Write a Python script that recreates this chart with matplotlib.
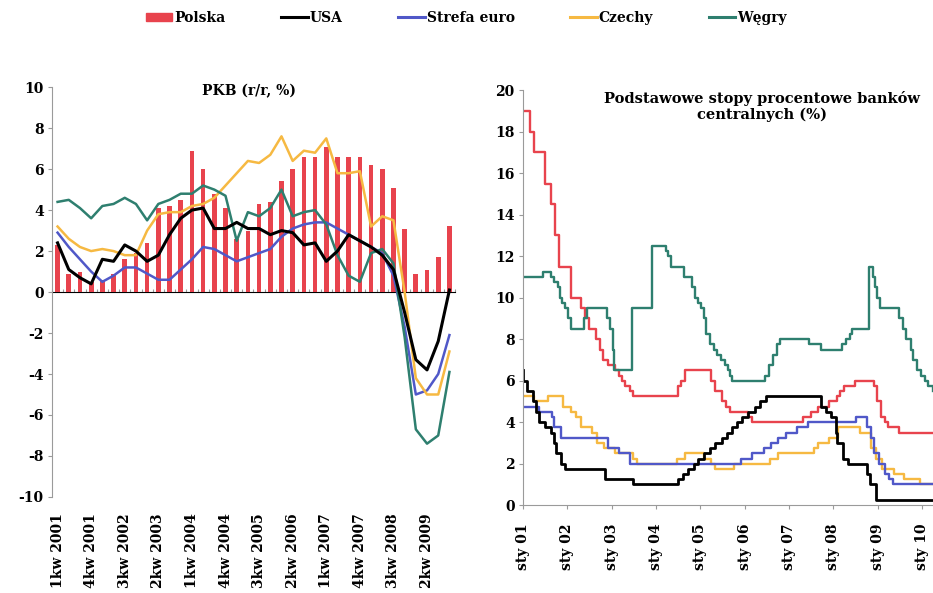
import matplotlib.pyplot as plt
import matplotlib.patches as mpatches
import matplotlib.lines as mlines
import numpy as np
import pandas as pd

plt.rcParams['font.family'] = ['DejaVu Serif']
plt.rcParams['font.weight'] = 'bold'
plt.rcParams['axes.unicode_minus'] = False

# --- PKB r/r (%), kwartalnie 1kw 2001 - 4kw 2009 ---
kwartaly = [f"{q}kw {rok}" for rok in range(2001, 2010) for q in range(1, 5)]

pkb_polska = [2.3, 0.9, 1.0, 0.5, 0.6, 0.9, 1.6, 1.9, 2.4, 4.1, 4.2, 4.5,
              6.9, 6.0, 4.8, 4.1, 2.6, 3.0, 4.3, 4.4, 5.4, 6.0, 6.6, 6.6,
              7.1, 6.6, 6.6, 6.6, 6.2, 6.0, 5.1, 3.1, 0.9, 1.1, 1.7, 3.2]
pkb_usa = [2.4, 1.1, 0.7, 0.4, 1.6, 1.5, 2.3, 2.0, 1.5, 1.8, 2.8, 3.6,
           4.0, 4.1, 3.1, 3.1, 3.4, 3.1, 3.1, 2.8, 3.0, 2.9, 2.3, 2.4,
           1.5, 2.0, 2.8, 2.5, 2.2, 1.8, 1.1, -1.0, -3.3, -3.8, -2.4, 0.1]
pkb_euro = [2.9, 2.2, 1.6, 1.0, 0.5, 0.8, 1.2, 1.2, 0.9, 0.6, 0.6, 1.1,
            1.6, 2.2, 2.1, 1.8, 1.5, 1.7, 1.9, 2.1, 2.7, 3.1, 3.3, 3.4,
            3.4, 3.1, 2.8, 2.5, 2.2, 1.9, 0.8, -1.7, -5.0, -4.8, -4.0, -2.1]
pkb_czechy = [3.2, 2.6, 2.2, 2.0, 2.1, 2.0, 1.8, 1.8, 3.0, 3.8, 3.9, 3.9,
              4.2, 4.3, 4.6, 5.2, 5.8, 6.4, 6.3, 6.7, 7.6, 6.4, 6.9, 6.8,
              7.5, 5.8, 5.8, 5.9, 3.2, 3.7, 3.5, 0.0, -4.2, -5.0, -5.0, -2.9]
pkb_wegry = [4.4, 4.5, 4.1, 3.6, 4.2, 4.3, 4.6, 4.3, 3.5, 4.3, 4.5, 4.8,
             4.8, 5.2, 5.0, 4.7, 2.5, 3.9, 3.7, 4.1, 5.0, 3.7, 3.9, 4.0,
             3.3, 1.8, 0.8, 0.5, 1.9, 2.1, 1.4, -2.2, -6.7, -7.4, -7.0, -3.9]

# --- Podstawowe stopy procentowe (%), daty zmian ---
stopy_polska_daty = ["2001-01-01", "2001-02-28", "2001-03-29", "2001-06-28", "2001-08-23",
                     "2001-09-20", "2001-10-25", "2002-01-31", "2002-04-26", "2002-05-30",
                     "2002-06-27", "2002-08-29", "2002-09-26", "2002-10-24", "2002-11-28",
                     "2003-01-30", "2003-02-27", "2003-03-27", "2003-04-24", "2003-05-29",
                     "2003-06-26", "2004-06-30", "2004-07-29", "2004-08-26", "2005-03-31",
                     "2005-04-28", "2005-06-30", "2005-07-28", "2005-08-31", "2006-01-31",
                     "2006-02-28", "2007-04-26", "2007-06-28", "2007-08-30", "2007-11-29",
                     "2008-01-31", "2008-02-28", "2008-03-27", "2008-06-26", "2008-11-27",
                     "2008-12-24", "2009-01-28", "2009-02-26", "2009-03-26", "2009-06-25"]
stopy_polska = [19.0, 18.0, 17.0, 15.5, 14.5, 13.0, 11.5, 10.0, 9.5, 9.0,
                8.5, 8.0, 7.5, 7.0, 6.75, 6.5, 6.25, 6.0, 5.75, 5.5,
                5.25, 5.75, 6.0, 6.5, 6.0, 5.5, 5.0, 4.75, 4.5, 4.25,
                4.0, 4.25, 4.5, 4.75, 5.0, 5.25, 5.5, 5.75, 6.0, 5.75,
                5.0, 4.25, 4.0, 3.75, 3.5]

stopy_usa_daty = ["2001-01-01", "2001-01-03", "2001-01-31", "2001-03-20", "2001-04-18",
                  "2001-05-15", "2001-06-27", "2001-08-21", "2001-09-17", "2001-10-02",
                  "2001-11-06", "2001-12-11", "2002-11-06", "2003-06-25", "2004-06-30",
                  "2004-08-10", "2004-09-21", "2004-11-10", "2004-12-14", "2005-02-02",
                  "2005-03-22", "2005-05-03", "2005-06-30", "2005-08-09", "2005-09-20",
                  "2005-11-01", "2005-12-13", "2006-01-31", "2006-03-28", "2006-05-10",
                  "2006-06-29", "2007-09-18", "2007-10-31", "2007-12-11", "2008-01-22",
                  "2008-01-30", "2008-03-18", "2008-04-30", "2008-10-08", "2008-10-29",
                  "2008-12-16"]
stopy_usa = [6.5, 6.0, 5.5, 5.0, 4.5, 4.0, 3.75, 3.5, 3.0, 2.5,
             2.0, 1.75, 1.25, 1.0, 1.25, 1.5, 1.75, 2.0, 2.25, 2.5,
             2.75, 3.0, 3.25, 3.5, 3.75, 4.0, 4.25, 4.5, 4.75, 5.0,
             5.25, 4.75, 4.5, 4.25, 3.5, 3.0, 2.25, 2.0, 1.5, 1.0,
             0.25]

stopy_euro_daty = ["2001-01-01", "2001-05-10", "2001-08-30", "2001-09-17", "2001-11-08",
                   "2002-12-05", "2003-03-06", "2003-06-05", "2005-12-01", "2006-03-02",
                   "2006-06-08", "2006-08-03", "2006-10-05", "2006-12-07", "2007-03-08",
                   "2007-06-06", "2008-07-03", "2008-10-08", "2008-11-06", "2008-12-04",
                   "2009-01-15", "2009-03-05", "2009-04-02", "2009-05-07"]
stopy_euro = [4.75, 4.5, 4.25, 3.75, 3.25, 2.75, 2.5, 2.0, 2.25, 2.5,
              2.75, 3.0, 3.25, 3.5, 3.75, 4.0, 4.25, 3.75, 3.25, 2.5,
              2.0, 1.5, 1.25, 1.0]

stopy_czechy_daty = ["2001-01-01", "2001-04-01", "2001-07-27", "2001-11-29", "2002-01-31",
                     "2002-03-15", "2002-04-26", "2002-07-26", "2002-09-01", "2002-11-01",
                     "2003-01-31", "2003-06-27", "2003-08-01", "2004-06-25", "2004-08-27",
                     "2005-01-28", "2005-03-31", "2005-04-29", "2005-10-01", "2006-07-28",
                     "2006-09-29", "2007-07-27", "2007-08-31", "2007-11-30", "2008-02-08",
                     "2008-08-08", "2008-11-07", "2008-12-18", "2009-02-06", "2009-05-11",
                     "2009-08-07", "2009-12-17"]
stopy_czechy = [5.25, 5.0, 5.25, 4.75, 4.5, 4.25, 3.75, 3.5, 3.0, 2.75,
                2.5, 2.25, 2.0, 2.25, 2.5, 2.25, 2.0, 1.75, 2.0, 2.25,
                2.5, 2.75, 3.0, 3.25, 3.75, 3.5, 2.75, 2.25, 1.75, 1.5,
                1.25, 1.0]

stopy_wegry_daty = ["2001-01-01", "2001-06-15", "2001-08-20", "2001-09-15", "2001-10-15",
                    "2001-11-01", "2001-11-20", "2001-12-15", "2002-01-10", "2002-02-01",
                    "2002-05-15", "2002-06-10", "2002-11-20", "2002-12-15", "2003-01-10",
                    "2003-01-20", "2003-06-15", "2003-11-28", "2004-03-20", "2004-04-05",
                    "2004-05-01", "2004-08-20", "2004-10-20", "2004-11-20", "2004-12-15",
                    "2005-01-05", "2005-02-01", "2005-02-20", "2005-03-20", "2005-04-20",
                    "2005-05-20", "2005-06-20", "2005-07-20", "2005-08-20", "2005-09-01",
                    "2005-09-20", "2006-06-15", "2006-07-20", "2006-08-25", "2006-09-20",
                    "2006-10-15", "2007-06-15", "2007-09-25", "2008-03-15", "2008-04-15",
                    "2008-05-15", "2008-06-01", "2008-10-22", "2008-11-24", "2008-12-08",
                    "2008-12-22", "2009-01-19", "2009-06-22", "2009-07-27", "2009-08-24",
                    "2009-09-28", "2009-10-19", "2009-11-23", "2009-12-21", "2010-01-25",
                    "2010-02-22", "2010-03-29"]
stopy_wegry = [11.0, 11.25, 11.0, 10.75, 10.5, 10.0, 9.75, 9.5, 9.0, 8.5,
               9.0, 9.5, 9.0, 8.5, 7.5, 6.5, 9.5, 12.5, 12.25, 12.0,
               11.5, 11.0, 10.5, 10.0, 9.75, 9.5, 9.0, 8.25, 7.75, 7.5,
               7.25, 7.0, 6.75, 6.5, 6.25, 6.0, 6.25, 6.75, 7.25, 7.75,
               8.0, 7.75, 7.5, 7.75, 8.0, 8.25, 8.5, 11.5, 11.0, 10.5,
               10.0, 9.5, 9.0, 8.5, 8.0, 7.5, 7.0, 6.5, 6.25, 6.0,
               5.75, 5.5]

koniec = "2010-04-01"
lata = list(range(2001, 2011))

kolory = {'Polska': '#e8434d', 'USA': '#000000', 'Strefa euro': '#5058c8',
          'Czechy': '#f6b942', 'Węgry': '#2e7f6f'}
szary = '#9a9a9a'

fig = plt.figure(figsize=(9.33, 5.93), dpi=100)

# ---------- wykres lewy: PKB ----------
ax1 = fig.add_axes([0.0557, 0.162, 0.432, 0.691])
x = np.arange(len(kwartaly))
ax1.bar(x, pkb_polska, width=0.42, color=kolory['Polska'], zorder=2)
ax1.plot(x, pkb_euro, color=kolory['Strefa euro'], lw=1.8, zorder=3)
ax1.plot(x, pkb_czechy, color=kolory['Czechy'], lw=1.8, zorder=3)
ax1.plot(x, pkb_wegry, color=kolory['Węgry'], lw=1.8, zorder=3)
ax1.plot(x, pkb_usa, color=kolory['USA'], lw=2.2, zorder=4)

ax1.set_xlim(-0.5, len(kwartaly) - 0.5)
ax1.set_ylim(-10, 10)
ax1.set_yticks(range(-10, 11, 2))
ax1.set_xticks(x[::3])
ax1.set_xticklabels(kwartaly[::3], rotation=90, fontsize=10)
ax1.tick_params(axis='x', length=0, pad=12)
ax1.tick_params(axis='y', length=3, color=szary, labelsize=10, pad=3)
for s in ['top', 'right', 'bottom']:
    ax1.spines[s].set_visible(False)
ax1.spines['left'].set_color(szary)

# os pozioma na poziomie 0 (srodek zakresu)
os0 = ax1.secondary_xaxis(0.5)
os0.set_xticks(np.arange(-0.5, len(kwartaly), 1))
os0.set_xticklabels([])
os0.tick_params(length=2.5, color=szary)
os0.spines['bottom'].set_color(szary)

ax1.text(0.49, 0.99, 'PKB (r/r, %)', transform=ax1.transAxes,
         ha='center', va='center', fontsize=10)

# ---------- wykres prawy: stopy procentowe ----------
ax2 = fig.add_axes([0.5606, 0.148, 0.4394, 0.70])
serie = [('Polska', stopy_polska_daty, stopy_polska, 1.7),
         ('Węgry', stopy_wegry_daty, stopy_wegry, 1.7),
         ('Czechy', stopy_czechy_daty, stopy_czechy, 1.7),
         ('Strefa euro', stopy_euro_daty, stopy_euro, 1.7),
         ('USA', stopy_usa_daty, stopy_usa, 2.0)]
for nazwa, daty, wartosci, lw in serie:
    d = pd.to_datetime(daty + [koniec])
    ax2.step(d, wartosci + [wartosci[-1]], where='post',
             color=kolory[nazwa], lw=lw)

ax2.set_xlim(pd.Timestamp('2001-01-01'), pd.Timestamp(koniec))
ax2.set_ylim(0, 20)
ax2.set_yticks(range(0, 21, 2))
ax2.set_xticks([pd.Timestamp(f'{r}-01-01') for r in lata])
ax2.set_xticklabels([f'sty {r % 100:02d}' for r in lata], rotation=90, fontsize=10)
ax2.tick_params(axis='x', length=3, color=szary, pad=10)
ax2.tick_params(axis='y', length=3, color=szary, labelsize=10, pad=3)
for s in ['top', 'right']:
    ax2.spines[s].set_visible(False)
ax2.spines['left'].set_color(szary)
ax2.spines['bottom'].set_color(szary)

ax2.text(0.583, 0.96, 'Podstawowe stopy procentowe banków\ncentralnych (%)',
         transform=ax2.transAxes, ha='center', va='center', fontsize=10.5,
         linespacing=1.1)

# ---------- legenda ----------
uchwyty = [mpatches.Patch(color=kolory['Polska'], label='Polska')]
for nazwa in ['USA', 'Strefa euro', 'Czechy', 'Węgry']:
    uchwyty.append(mlines.Line2D([], [], color=kolory[nazwa], lw=2.2, label=nazwa))
fig.legend(handles=uchwyty, loc='center', bbox_to_anchor=(0.5, 0.97), ncol=5,
           frameon=False, fontsize=10, handlelength=1.9, handletextpad=0.15,
           columnspacing=4.0, handleheight=0.55)

fig.savefig('out.png', dpi=100)
